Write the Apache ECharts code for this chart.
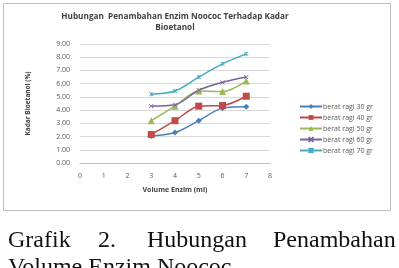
<!DOCTYPE html>
<html lang="en">
  <head>
    <meta charset="UTF-8" />
    <title>Grafik 2</title>
    <script src="https://cdn.jsdelivr.net/npm/echarts@6/dist/echarts.min.js"></script>
    <style>
      body { margin: 0; background: #fff; }
    </style>
  </head>
  <body>
    <div id="main" style="height: 268px; width: 399px"></div>
  </body>
</html>
<script>
  const volume = [3, 4, 5, 6, 7]
  const ragi30 = [2.05, 2.3, 3.2, 4.15, 4.25]
  const ragi40 = [2.15, 3.2, 4.3, 4.35, 5.05]
  const ragi50 = [3.2, 4.3, 5.45, 5.4, 6.2]
  const ragi60 = [4.3, 4.4, 5.5, 6.1, 6.5]
  const ragi70 = [5.2, 5.45, 6.5, 7.5, 8.25]
  const seriesNames = ['berat ragi 30 gr', 'berat ragi 40 gr', 'berat ragi 50 gr', 'berat ragi 60 gr', 'berat ragi 70 gr']

  const pair = (ys) => volume.map((x, i) => [x, ys[i]])

  const chartInstance = echarts.init(document.getElementById('main'))

  const crossPath = 'path://M0,0L10,10M10,0L0,10'
  const starPath = 'path://M0,0L10,10M10,0L0,10M5,0L5,10'

  const makeSeries = (name, ys, color, symbol, size, strokeOnly) => ({
    name: name,
    type: 'line',
    smooth: 0.3,
    data: pair(ys),
    symbol: symbol,
    symbolSize: size,
    lineStyle: { color: color, width: 1.5 },
    itemStyle: strokeOnly
      ? { color: 'transparent', borderColor: color, borderWidth: 1 }
      : { color: color, borderColor: color, borderWidth: 0 }
  })

  const captionFont = '24px "Liberation Serif"'

  const option = {
    animation: false,
    textStyle: { fontFamily: 'Open Sans' },
    title: {
      text: 'Hubungan  Penambahan Enzim Noococ Terhadap Kadar\nBioetanol',
      left: 170,
      top: 6,
      textAlign: 'center',
      textStyle: { fontSize: 8.2, fontWeight: 'bold', color: '#404040', lineHeight: 11 }
    },
    grid: { left: 80, right: 129, top: 44, bottom: 105 },
    legend: {
      orient: 'vertical',
      left: 294,
      top: 98,
      itemGap: 4,
      itemWidth: 22,
      itemHeight: 6,
      textStyle: { fontSize: 7, color: '#595959', padding: [0, 0, 0, -4] },
      data: seriesNames
    },
    xAxis: {
      type: 'value',
      min: 0,
      max: 8,
      interval: 1,
      name: 'Volume Enzim (ml)',
      nameLocation: 'middle',
      nameGap: 23,
      nameTextStyle: { fontSize: 7, fontWeight: 'bold', color: '#404040' },
      axisLine: { lineStyle: { color: '#bfbfbf' } },
      axisTick: { show: false },
      splitLine: { show: false },
      axisLabel: { fontSize: 7, color: '#595959', margin: 9 }
    },
    yAxis: {
      type: 'value',
      min: 0,
      max: 9,
      interval: 1,
      name: 'Kadar Bioetanol (%)',
      nameLocation: 'middle',
      nameGap: 48,
      nameTextStyle: { fontSize: 6.5, fontWeight: 'bold', color: '#404040' },
      axisLine: { show: false },
      axisTick: { show: false },
      splitLine: { lineStyle: { color: '#d9d9d9' } },
      axisLabel: { fontSize: 7, color: '#595959', margin: 10, formatter: (v) => v.toFixed(2) }
    },
    graphic: [
      {
        type: 'rect',
        shape: { x: 3.5, y: 3.5, width: 387, height: 207 },
        style: { fill: 'none', stroke: '#bfbfbf', lineWidth: 1 },
        z: -1
      },
      { type: 'text', left: 8, top: 229, style: { text: 'Grafik', font: captionFont, fill: '#111' } },
      { type: 'text', left: 98, top: 229, style: { text: '2.', font: captionFont, fill: '#111' } },
      { type: 'text', left: 147, top: 229, style: { text: 'Hubungan', font: captionFont, fill: '#111' } },
      { type: 'text', left: 273, top: 229, style: { text: 'Penambahan', font: captionFont, fill: '#111' } },
      { type: 'text', left: 8, top: 256, style: { text: 'Volume Enzim Noococ', font: captionFont, fill: '#111' } }
    ],
    series: [
      makeSeries(seriesNames[0], ragi30, '#4a7ebb', 'diamond', 6, false),
      makeSeries(seriesNames[1], ragi40, '#be4b48', 'rect', 7, false),
      makeSeries(seriesNames[2], ragi50, '#98b954', 'triangle', 7, false),
      makeSeries(seriesNames[3], ragi60, '#7d60a0', crossPath, 4, true),
      makeSeries(seriesNames[4], ragi70, '#46aac5', starPath, 4, true)
    ]
  }

  chartInstance.setOption(option)
</script>
